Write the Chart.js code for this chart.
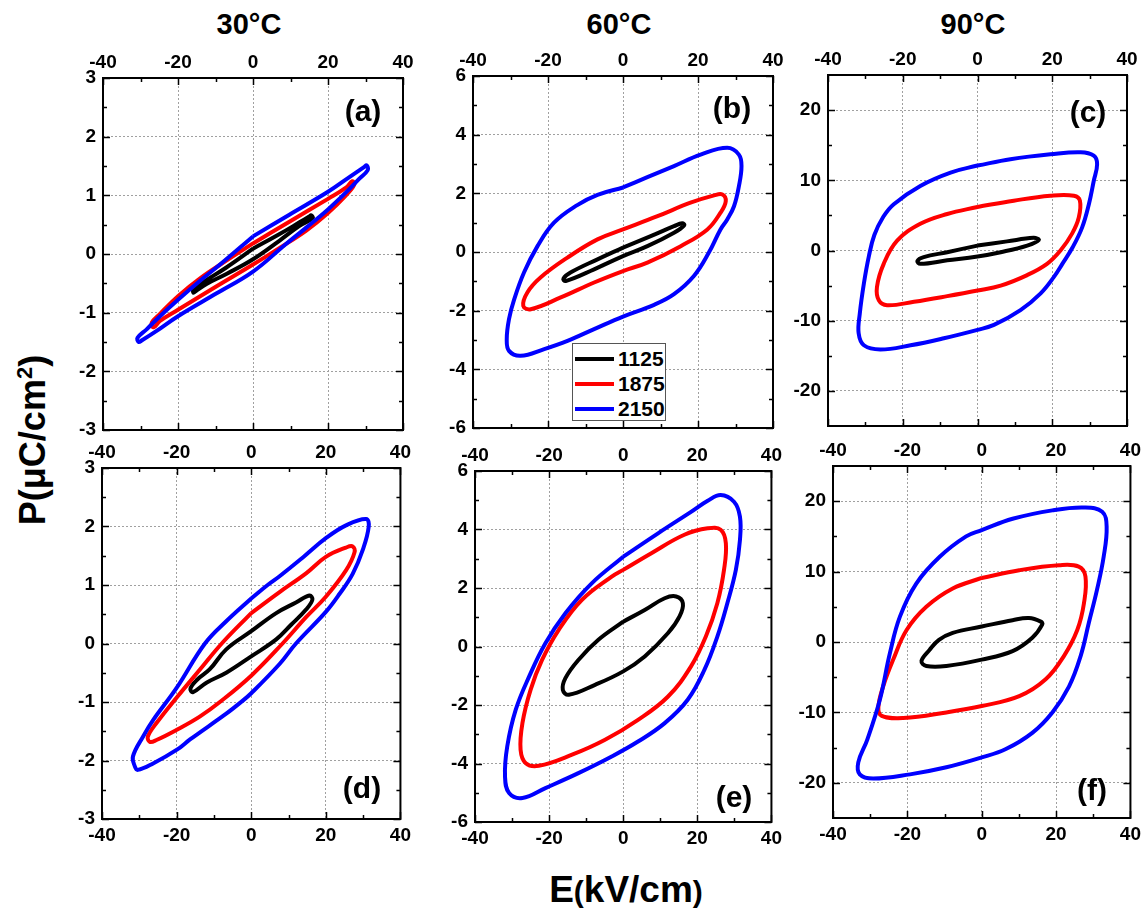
<!DOCTYPE html>
<html>
<head>
<meta charset="utf-8">
<script src="https://cdn.jsdelivr.net/npm/chart.js@4.4.1/dist/chart.umd.min.js"></script>
<style>
  body { margin: 0; width: 1148px; height: 914px; background: #fff; position: relative; overflow: hidden;
         font-family: "Liberation Sans", Arial, Helvetica, sans-serif; }
  canvas { position: absolute; }
  .txt { position: absolute; font-weight: bold; color: #000; white-space: nowrap; transform: translate(-50%, -50%); }
  .title { font-size: 29px; }
  .tag { font-size: 30px; }
  .legend { position: absolute; left: 572px; top: 343px; width: 92px; height: 76px; background: #fff;
            border: 1px solid #555; z-index: 5; }
  .legend div { position: absolute; left: 2px; height: 25px; font-size: 21px; font-weight: bold; line-height: 25px; white-space: nowrap; }
  .legend span { display: inline-block; width: 39px; height: 4px; vertical-align: middle; margin-right: 4px; position: relative; top: -1px; }
</style>
</head>
<body>

<div class="txt title" style="left:249px;top:24px">30°C</div>
<div class="txt title" style="left:619px;top:24px">60°C</div>
<div class="txt title" style="left:973px;top:24px">90°C</div>

<div class="txt" style="left:33px;top:440px;font-size:36px;transform:translate(-50%,-50%) rotate(-90deg)">P(μC/cm<sup style="font-size:22px">2</sup>)</div>
<div class="txt" style="left:626px;top:890px;font-size:37px">E<span style="font-size:30px">(</span>kV/cm<span style="font-size:30px">)</span></div>

<div class="legend">
  <div style="top:2px"><span style="background:#000"></span>1125</div>
  <div style="top:27px"><span style="background:#ff0000"></span>1875</div>
  <div style="top:52px"><span style="background:#0000ff"></span>2150</div>
</div>

<script>
/* ─── DATA ───────────────────────────────────────────── */
const voltages = ["1125", "1875", "2150"];
const colors   = ["#000000", "#ff0000", "#0000ff"];

const eTicks = [-40, -20, 0, 20, 40];
const eMinor = [-30, -10, 10, 30];

const pTicks30 = [-3, -2, -1, 0, 1, 2, 3];
const pMinor30 = [-2.5, -1.5, -0.5, 0.5, 1.5, 2.5];
const pTicks60 = [-6, -4, -2, 0, 2, 4, 6];
const pMinor60 = [-5, -3, -1, 1, 3, 5];
const pTicks90 = [-20, -10, 0, 10, 20];
const pMinor90 = [-15, -5, 5, 15];

// closed loops: [E (kV/cm), P (µC/cm²)], each starts and ends on the upper branch at E = 0
const a1125 = [[0,0.09],[7.1,0.34],[12.4,0.54],[15,0.64],[15.5,0.66],[15.9,0.61],[12.4,0.48],[7.1,0.23],[0,-0.09],[-7.1,-0.34],[-12.4,-0.51],[-15,-0.62],[-15.9,-0.66],[-15.8,-0.59],[-13.3,-0.48],[-7.1,-0.23],[0,0.09]];
const a1875 = [[0,0.18],[9.7,0.55],[20,0.94],[24.8,1.13],[26.5,1.24],[27,1.18],[24.8,1.0],[20,0.7],[14.2,0.4],[7,0.1],[0,-0.18],[-9.7,-0.55],[-20,-0.95],[-24.8,-1.14],[-26.5,-1.25],[-27,-1.17],[-24.8,-1.02],[-20,-0.72],[-14.2,-0.42],[-7,-0.11],[0,0.18]];
const a2150 = [[0,0.3],[9.7,0.67],[20,1.06],[25.7,1.31],[29.6,1.48],[30.3,1.51],[30.6,1.43],[28.3,1.28],[24.8,1.05],[20,0.76],[14.2,0.45],[8.8,0.17],[0,-0.3],[-9.7,-0.67],[-20,-1.06],[-25.7,-1.31],[-29.6,-1.47],[-30.5,-1.5],[-30.8,-1.43],[-28.3,-1.28],[-24.8,-1.06],[-20,-0.78],[-14.2,-0.46],[-8.8,-0.18],[0,0.3]];

const b1125 = [[0,0.15],[7.4,0.54],[13.6,0.88],[15.8,0.98],[16.3,0.91],[13.6,0.66],[6.5,0.2],[0,-0.14],[-7.7,-0.59],[-15.3,-0.99],[-15.9,-0.91],[-14,-0.7],[-6.8,-0.25],[0,0.15]];
const b1875 = [[0,0.77],[9.2,1.22],[18,1.68],[24.3,1.93],[26.5,1.96],[27.4,1.73],[26,1.34],[22.5,0.77],[15.4,0.2],[6.5,-0.36],[0,-0.65],[-7.7,-1.04],[-16.6,-1.55],[-24.6,-1.95],[-26.6,-1.84],[-25.5,-1.38],[-22,-0.87],[-14.8,-0.19],[-6.8,0.43],[0,0.77]];
const b2150 = [[0,2.2],[6.5,2.55],[13.6,2.93],[20.7,3.32],[27.8,3.55],[30.9,3.32],[31.6,2.93],[30.9,2.24],[29.6,1.56],[27.8,1.11],[26,0.77],[22.9,-0.02],[18.9,-0.82],[13.6,-1.44],[8.3,-1.8],[0,-2.2],[-7.7,-2.63],[-14.8,-3.03],[-21,-3.31],[-27.3,-3.54],[-30.4,-3.37],[-31,-2.97],[-30.4,-2.29],[-29,-1.61],[-26.4,-0.7],[-22.8,0.2],[-18.4,1.0],[-12.2,1.6],[-6.8,1.95],[0,2.2]];

const c1125 = [[0,0.7],[7.9,1.3],[15,1.8],[16.4,1.5],[13.3,0.7],[6.2,-0.24],[0,-0.85],[-8.1,-1.4],[-15.3,-1.9],[-16.1,-1.5],[-14.4,-0.95],[-8.1,-0.24],[0,0.7]];
const c1875 = [[0,6.2],[9.7,7.1],[19.5,7.8],[25.8,7.8],[27.4,7.1],[27.1,4.7],[25.3,2.4],[22.2,0],[18.6,-1.9],[13.3,-3.5],[6.2,-5],[0,-5.7],[-8.1,-6.5],[-17,-7.3],[-24.2,-7.8],[-26.4,-7.1],[-26.9,-5.2],[-25.1,-1.9],[-21.5,1.4],[-15.3,3.8],[-8.1,5.2],[0,6.2]];
const c2150 = [[0,12.1],[8.8,13],[19.5,13.7],[27.6,14.0],[31.1,13.5],[32.0,12.3],[31.1,9.9],[29.8,6.6],[28,3.3],[25.5,0.5],[22.7,-1.9],[20.4,-3.8],[16.9,-6.1],[11.5,-8.5],[4.4,-10.6],[0,-11.3],[-9,-12.5],[-17.9,-13.5],[-26,-14.1],[-30.4,-13.5],[-31.8,-11.8],[-31.5,-9],[-30.4,-4.7],[-29.1,-0.9],[-27.6,2.2],[-25.2,4.8],[-22.4,6.6],[-15.3,9.2],[-7.2,11.1],[0,12.1]];

const d1125 = [[0,0.21],[6.7,0.52],[12,0.7],[15.6,0.82],[16.4,0.75],[14.7,0.58],[10.7,0.32],[6.7,0.07],[0,-0.22],[-6.7,-0.5],[-12,-0.67],[-15.6,-0.83],[-16.3,-0.77],[-14.5,-0.62],[-11.1,-0.44],[-6.7,-0.1],[0,0.21]];
const d1875 = [[0,0.52],[7.6,0.88],[14.7,1.2],[20,1.48],[25.4,1.64],[27.2,1.66],[27.7,1.56],[25.4,1.25],[20,0.8],[14.7,0.45],[8.4,0],[0,-0.55],[-8.4,-1.0],[-13.8,-1.25],[-19.8,-1.47],[-25.4,-1.65],[-27.2,-1.68],[-27.7,-1.59],[-25.4,-1.36],[-19.8,-0.91],[-13.8,-0.45],[-7.9,0],[0,0.52]];
const d2150 = [[0,0.77],[4.4,1.0],[7.6,1.15],[14,1.48],[20,1.8],[25.4,2.02],[30.8,2.13],[31.5,2.0],[29.9,1.6],[27.2,1.19],[23.7,0.85],[20,0.54],[12,0],[7.6,-0.35],[0,-0.85],[-2.7,-1.0],[-6.7,-1.2],[-16.4,-1.64],[-19.8,-1.81],[-26.3,-2.05],[-30.4,-2.16],[-31.2,-2.1],[-31.7,-1.93],[-28.9,-1.58],[-26.3,-1.31],[-20,-0.76],[-12.4,0],[-6.7,0.38],[0,0.77]];

const e1125 = [[0,0.85],[5.8,1.25],[11.2,1.65],[14.3,1.71],[16.1,1.48],[15.2,1.03],[12.1,0.46],[5.8,-0.34],[0,-0.85],[-7.6,-1.31],[-14.7,-1.65],[-16.3,-1.48],[-15.6,-1.08],[-12.1,-0.46],[-6.7,0.23],[0,0.85]];
const e1875 = [[0,2.62],[7.6,3.19],[16.5,3.82],[22.8,4.04],[26.3,3.99],[27.7,3.53],[27.2,2.62],[25.4,1.48],[22.3,0.34],[18.3,-0.68],[12.1,-1.71],[4,-2.51],[-4.9,-3.19],[-13.8,-3.7],[-22.8,-4.08],[-26.3,-3.99],[-27.7,-3.53],[-27.2,-2.62],[-25,-1.48],[-21.9,-0.46],[-17.4,0.57],[-11.2,1.59],[-3.1,2.39],[0,2.62]];
const e2150 = [[0,3.07],[9.4,3.87],[18.3,4.6],[22.8,4.98],[26.3,5.18],[29.9,4.95],[31.5,4.44],[31.5,3.64],[30.4,2.62],[28.1,1.48],[25.4,0.34],[21.9,-0.8],[17.4,-1.82],[11.2,-2.62],[4,-3.25],[-3.1,-3.76],[-12.1,-4.33],[-21,-4.84],[-27.2,-5.18],[-30.8,-5.01],[-31.9,-4.44],[-31.3,-3.42],[-29,-2.16],[-25.4,-1.03],[-21,0.11],[-15.6,1.14],[-8.5,2.16],[0,3.07]];

const f1125 = [[0,2.2],[8.3,3.1],[12.7,3.4],[15.9,2.9],[16.3,2.5],[13.6,0.6],[8.3,-1.3],[0,-2.5],[-9.5,-3.4],[-14.9,-3.4],[-16.2,-2.7],[-14,-1.1],[-11.5,0.3],[-7.8,1.3],[0,2.2]];
const f1875 = [[0,9.1],[10.1,10.2],[20.8,10.9],[26.1,10.7],[27.9,9.3],[27.5,5.5],[25.7,1.7],[22.1,-2],[17.2,-5.3],[10.1,-7.7],[0,-9.1],[-9.5,-10],[-21.1,-10.8],[-26.9,-10.5],[-27.8,-9.3],[-26.5,-6.3],[-23.8,-2.5],[-20.2,1.7],[-14.9,5],[-7.8,7.6],[0,9.1]];
const f2150 = [[0,15.9],[8.3,17.5],[19,18.7],[27.5,19.1],[32.4,18.5],[33.6,16.4],[32.8,12.1],[31,7.4],[28.8,2.7],[26.6,-2],[23.5,-6.3],[19,-10],[13.6,-12.9],[6.5,-15.2],[0,-16.4],[-9.5,-17.8],[-19.3,-18.8],[-29.2,-19.4],[-32.8,-18.8],[-33.2,-17.1],[-30.8,-13.9],[-27.4,-8.2],[-24.7,-1.6],[-22,3.6],[-17.6,8.3],[-11.3,12.1],[-4.2,15],[0,15.9]];

/* ─── LAYOUT ─────────────────────────────────────────── */
const PAD_L = 50, PAD_T = 32, PAD_R = 14, PAD_B = 32;

const panels = [
  { tag: "(a)", row: 0, box: [103, 78, 403, 430],  pMax: 3,  pTicks: pTicks30, pMinor: pMinor30, loops: [a1125, a1875, a2150], tagAt: [363, 111] },
  { tag: "(b)", row: 0, box: [473, 76, 773, 428],  pMax: 6,  pTicks: pTicks60, pMinor: pMinor60, loops: [b1125, b1875, b2150], tagAt: [732, 108] },
  { tag: "(c)", row: 0, box: [828, 75, 1127, 426], pMax: 25, pTicks: pTicks90, pMinor: pMinor90, loops: [c1125, c1875, c2150], tagAt: [1088, 112] },
  { tag: "(d)", row: 1, box: [102, 468, 402, 819], pMax: 3,  pTicks: pTicks30, pMinor: pMinor30, loops: [d1125, d1875, d2150], tagAt: [362, 788] },
  { tag: "(e)", row: 1, box: [475, 471, 773, 822], pMax: 6,  pTicks: pTicks60, pMinor: pMinor60, loops: [e1125, e1875, e2150], tagAt: [734, 797] },
  { tag: "(f)", row: 1, box: [833, 466, 1132, 818], pMax: 25, pTicks: pTicks90, pMinor: pMinor90, loops: [f1125, f1875, f2150], tagAt: [1092, 790] },
];

/* ─── FRAME + INWARD TICKS ───────────────────────────── */
const frameTicks = {
  id: "frameTicks",
  afterDraw(chart, args, opts) {
    const { ctx, chartArea: a, scales: { x, y } } = chart;
    ctx.save();
    ctx.strokeStyle = "#000";
    ctx.lineWidth = 1.5;
    ctx.beginPath();
    const xs = (vals, len) => vals.forEach(v => {
      const px = Math.round(x.getPixelForValue(v)) + 0.5;
      ctx.moveTo(px, a.bottom); ctx.lineTo(px, a.bottom - len);
      ctx.moveTo(px, a.top);    ctx.lineTo(px, a.top + len);
    });
    const ys = (vals, len) => vals.forEach(v => {
      const py = Math.round(y.getPixelForValue(v)) + 0.5;
      ctx.moveTo(a.left, py);  ctx.lineTo(a.left + len, py);
      ctx.moveTo(a.right, py); ctx.lineTo(a.right - len, py);
    });
    xs(eTicks, 7); xs(eMinor, 4);
    ys(opts.major, 7); ys(opts.minor, 4);
    ctx.stroke();
    ctx.lineWidth = 2;
    ctx.strokeRect(a.left, a.top, a.width, a.height);
    ctx.restore();
  }
};

const tickFont = { family: '"Liberation Sans", Arial, sans-serif', size: 19, weight: "bold" };

function makePanel(p) {
  const [L, T, R, B] = p.box;
  const cv = document.createElement("canvas");
  cv.width  = R - L + PAD_L + PAD_R;
  cv.height = B - T + PAD_T + PAD_B;
  cv.style.left = (L - PAD_L) + "px";
  cv.style.top  = (T - PAD_T) + "px";
  document.body.appendChild(cv);

  const datasets = p.loops.map((loop, i) => ({
    label: voltages[i],
    data: loop.map(([e, pv]) => ({ x: e, y: pv })),
    showLine: true,
    borderColor: colors[i],
    borderWidth: 4,
    pointRadius: 0,
    tension: 0.4,
    fill: false,
    order: -i,
    xAxisID: "x",
    yAxisID: "y",
  }));

  const gridOpts = { color: "#a0a0a0", lineWidth: 1, drawTicks: false };

  new Chart(cv, {
    type: "scatter",
    data: { datasets },
    plugins: [frameTicks],
    options: {
      responsive: false,
      animation: false,
      events: [],
      layout: { padding: 0 },
      plugins: {
        legend: { display: false },
        tooltip: { enabled: false },
        frameTicks: { major: p.pTicks, minor: p.pMinor },
      },
      scales: {
        x: {
          type: "linear", position: "bottom", min: -40, max: 40,
          afterBuildTicks: s => { s.ticks = eTicks.map(v => ({ value: v })); },
          afterFit: s => { s.height = PAD_B; },
          grid: gridOpts,
          border: { display: false, dash: [2, 2] },
          ticks: { display: p.row === 1, font: tickFont, color: "#000", padding: 5, maxRotation: 0, autoSkip: false },
        },
        x2: {
          type: "linear", position: "top", min: -40, max: 40,
          afterBuildTicks: s => { s.ticks = eTicks.map(v => ({ value: v })); },
          afterFit: s => { s.height = PAD_T; },
          grid: { display: false },
          border: { display: false },
          ticks: { font: tickFont, color: "#000", padding: -4, maxRotation: 0, autoSkip: false },
        },
        y: {
          type: "linear", position: "left", min: -p.pMax, max: p.pMax,
          afterBuildTicks: s => { s.ticks = p.pTicks.map(v => ({ value: v })); },
          afterFit: s => { s.width = PAD_L; },
          grid: gridOpts,
          border: { display: false, dash: [2, 2] },
          ticks: { font: tickFont, color: "#000", padding: 7, autoSkip: false },
        },
        y2: {
          type: "linear", position: "right", min: -p.pMax, max: p.pMax,
          afterFit: s => { s.width = PAD_R; },
          grid: { display: false },
          border: { display: false },
          ticks: { display: false },
        },
      },
    },
  });

  const tag = document.createElement("div");
  tag.className = "txt tag";
  tag.style.left = p.tagAt[0] + "px";
  tag.style.top  = p.tagAt[1] + "px";
  tag.textContent = p.tag;
  document.body.appendChild(tag);
}

panels.forEach(makePanel);
</script>
</body>
</html>
